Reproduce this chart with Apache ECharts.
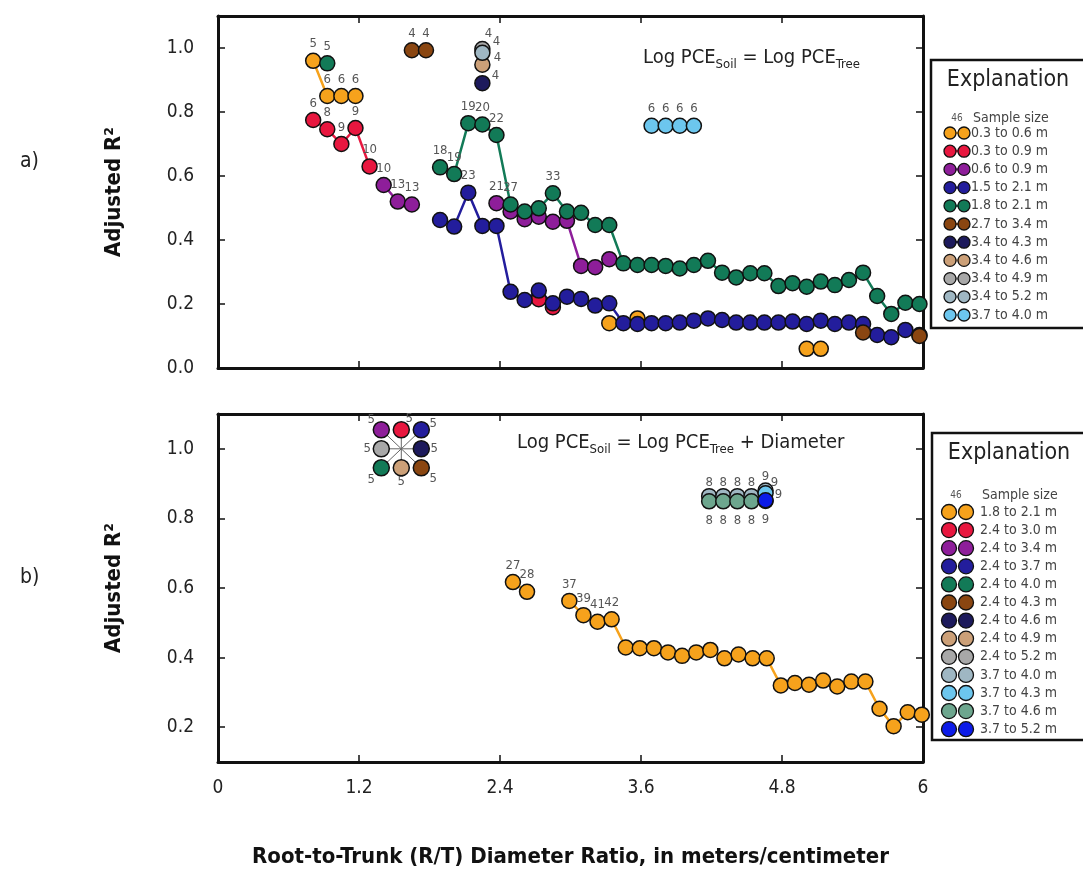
<!DOCTYPE html>
<html>
<head>
<meta charset="utf-8">
<script src="https://cdn.jsdelivr.net/npm/echarts@6/dist/echarts.min.js"></script>
<style>
html, body { margin: 0; padding: 0; background: #fff; }
#chart { width: 1083px; height: 869px; }
</style>
</head>
<body>
<div id="chart"></div>
<script>
var FONT = '"Liberation Sans Narrow", "DejaVu Sans Condensed", "Arial Narrow", sans-serif'

// Axis ticks
var xTicks = [0, 1.2, 2.4, 3.6, 4.8, 6]
var yTicksA = [0, 0.2, 0.4, 0.6, 0.8, 1.0]
var yTicksB = [0.2, 0.4, 0.6, 0.8, 1.0]

// Panel a) -- each series is a list of segments, point = [R/T ratio, adjusted R2, sample size]
var namesA = ['0.3 to 0.6 m', '0.3 to 0.9 m', '0.6 to 0.9 m', '1.5 to 2.1 m', '1.8 to 2.1 m', '2.7 to 3.4 m',
    '3.4 to 4.3 m', '3.4 to 4.6 m', '3.4 to 4.9 m', '3.4 to 5.2 m', '3.7 to 4.0 m']
var colorsA = ['#F6A21C', '#E8173F', '#8E1E9A', '#231D9C', '#127A57', '#8A4611',
    '#1D1A5C', '#CCA078', '#A8A8A8', '#9FB7C3', '#6CC6EE']

var a_03_06 = [[[0.81, 0.96, 5], [0.93, 0.85, 6], [1.05, 0.85, 6], [1.17, 0.85, 6]],
    [[3.33, 0.14]], [[3.57, 0.155]], [[5.01, 0.06], [5.13, 0.06]]]
var a_03_09 = [[[0.81, 0.775, 6], [0.93, 0.746, 8], [1.05, 0.70, 9], [1.17, 0.75, 9], [1.29, 0.63, 10]],
    [[2.73, 0.215], [2.85, 0.19]]]
var a_06_09 = [[[1.41, 0.572, 10], [1.53, 0.52, 13], [1.65, 0.511, 13]],
    [[2.37, 0.515, 21], [2.49, 0.489], [2.61, 0.465], [2.73, 0.473], [2.85, 0.457], [2.97, 0.46],
     [3.09, 0.319], [3.21, 0.315], [3.33, 0.34]]]
var a_15_21 = [[[1.89, 0.4625], [2.01, 0.442], [2.13, 0.548, 23], [2.25, 0.444], [2.37, 0.444],
    [2.49, 0.238], [2.61, 0.2125], [2.73, 0.242], [2.85, 0.202], [2.97, 0.223], [3.09, 0.216],
    [3.21, 0.195], [3.33, 0.202], [3.45, 0.14], [3.57, 0.1375], [3.69, 0.14], [3.81, 0.14],
    [3.93, 0.142], [4.05, 0.148], [4.17, 0.155], [4.29, 0.15], [4.41, 0.142], [4.53, 0.142],
    [4.65, 0.142], [4.77, 0.142], [4.89, 0.145], [5.01, 0.1375], [5.13, 0.148], [5.25, 0.1375],
    [5.37, 0.142], [5.49, 0.1375], [5.61, 0.103], [5.73, 0.096], [5.85, 0.119], [5.97, 0.103]]]
var a_18_21 = [[[0.93, 0.952, 5]],
    [[1.89, 0.627, 18], [2.01, 0.606, 19], [2.13, 0.765, 19], [2.25, 0.761, 20], [2.37, 0.728, 22],
     [2.49, 0.511, 27], [2.61, 0.489], [2.73, 0.499], [2.85, 0.546, 33], [2.97, 0.489], [3.09, 0.485],
     [3.21, 0.447], [3.33, 0.447], [3.45, 0.327], [3.57, 0.322], [3.69, 0.322], [3.81, 0.319],
     [3.93, 0.311], [4.05, 0.322], [4.17, 0.335], [4.29, 0.298], [4.41, 0.283], [4.53, 0.296],
     [4.65, 0.296], [4.77, 0.256], [4.89, 0.265], [5.01, 0.254], [5.13, 0.27], [5.25, 0.259],
     [5.37, 0.275], [5.49, 0.298], [5.61, 0.225], [5.73, 0.169], [5.85, 0.204], [5.97, 0.2]]]
var a_27_34 = [[[1.65, 0.993, 4], [1.77, 0.993, 4]], [[5.49, 0.111]], [[5.97, 0.10]]]
var a_34_43 = [[[2.25, 0.89, 4]]]
var a_34_46 = [[[2.25, 0.948, 4]]]
var a_34_49 = [[[2.25, 0.997, 4]]]
var a_34_52 = [[[2.25, 0.985, 4]]]
var a_37_40 = [[[3.69, 0.757, 6], [3.81, 0.757, 6], [3.93, 0.757, 6], [4.05, 0.757, 6]]]

var dataA = [a_03_06, a_03_09, a_06_09, a_15_21, a_18_21, a_27_34, a_34_43, a_34_46, a_34_49, a_34_52, a_37_40]

// Panel b)
var namesB = ['1.8 to 2.1 m', '2.4 to 3.0 m', '2.4 to 3.4 m', '2.4 to 3.7 m', '2.4 to 4.0 m', '2.4 to 4.3 m',
    '2.4 to 4.6 m', '2.4 to 4.9 m', '2.4 to 5.2 m', '3.7 to 4.0 m', '3.7 to 4.3 m', '3.7 to 4.6 m', '3.7 to 5.2 m']
var colorsB = ['#F6A21C', '#E8173F', '#8E1E9A', '#231D9C', '#127A57', '#8A4611',
    '#1D1A5C', '#CCA078', '#A8A8A8', '#9FB7C3', '#6CC6EE', '#6DA68E', '#0C1BE8']

var b_18_21 = [[[2.51, 0.617, 27], [2.63, 0.589, 28]],
    [[2.99, 0.563, 37], [3.11, 0.522, 39], [3.23, 0.503, 41], [3.35, 0.510, 42], [3.47, 0.429],
     [3.59, 0.427], [3.71, 0.427], [3.83, 0.415], [3.95, 0.405], [4.07, 0.415], [4.19, 0.422],
     [4.31, 0.398], [4.43, 0.409], [4.55, 0.398], [4.67, 0.398], [4.79, 0.320], [4.91, 0.327],
     [5.03, 0.322], [5.15, 0.334], [5.27, 0.317], [5.39, 0.331], [5.51, 0.331], [5.63, 0.253],
     [5.75, 0.203], [5.87, 0.243], [5.99, 0.236]]]
// all eight 2.4 m series share one point, spread out as a sunflower
var starPoint = [1.56, 1.0, 5]
var b_37_40 = [[[4.18, 0.864, 8], [4.30, 0.864, 8], [4.42, 0.864, 8], [4.54, 0.864, 8], [4.66, 0.88, 9]]]
var b_37_43 = [[[4.66, 0.872, 9]]]
var b_37_46 = [[[4.18, 0.849, 8], [4.30, 0.849, 8], [4.42, 0.849, 8], [4.54, 0.849, 8], [4.66, 0.85, 9]]]
var b_37_52 = [[[4.66, 0.852, 9]]]

var dataB = [b_18_21, [[starPoint]], [[starPoint]], [[starPoint]], [[starPoint]], [[starPoint]],
    [[starPoint]], [[starPoint]], [[starPoint]], b_37_40, b_37_43, b_37_46, b_37_52]

// sunflower offsets (px) and where their "5" labels sit, in namesB order 1..8
var starOffsets = [[0, -19], [-20, -19], [20, -19], [-20, 19], [20, 19], [20, 0], [0, 19], [-20, 0]]
var starLabelOffsets = [[8, -11], [-10, -10], [12, -6], [-10, 12], [12, 11], [13, 0], [0, 14], [-14, 0]]

// label tweaks for stacked points
var labelA = {
    6: { position: 'inside', offset: [13, -8] },
    7: { position: 'inside', offset: [15, -7] },
    8: { position: 'inside', offset: [6, -15] },
    9: { position: 'inside', offset: [14, -11] }
}
var labelB = {
    9: { position: 'inside', offset: [0, -14] },
    10: { position: 'inside', offset: [9, -11] },
    11: { position: 'inside', offset: [0, 19] },
    12: { position: 'inside', offset: [13, -6] }
}

function joinSegs(segs) {
    var out = []
    segs.forEach(function (s, i) {
        if (i > 0) out.push([s[0][0], '-'])
        s.forEach(function (p) { out.push(p) })
    })
    return out
}

function sizeLabel(p) {
    var n = p.value[2]
    return (n == null || isNaN(n)) ? '' : String(n)
}

function makeSeries(name, color, segs, gi, extraLabel, size) {
    var label = { show: true, position: 'top', distance: 2, fontSize: 13, color: '#555', fontFamily: FONT, formatter: sizeLabel }
    if (extraLabel) Object.assign(label, extraLabel)
    return {
        type: 'line', name: name, xAxisIndex: gi * 2, yAxisIndex: gi * 2,
        data: joinSegs(segs), dimensions: ['x', 'y', 'n'], encode: { x: 0, y: 1 },
        symbol: 'circle', symbolSize: size || 15, showSymbol: true, showAllSymbol: true,
        connectNulls: false, clip: true,
        lineStyle: { color: color, width: 2.5 },
        itemStyle: { color: color, borderColor: '#111', borderWidth: 1.5 },
        label: label, emphasis: { disabled: true }, silent: true, z: 3
    }
}

var series = []
namesA.forEach(function (nm, i) {
    series.push(makeSeries(nm, colorsA[i], dataA[i], 0, labelA[i]))
})

// spokes of the sunflower
series.push({
    type: 'custom', xAxisIndex: 2, yAxisIndex: 2, data: [starPoint], silent: true, z: 2,
    renderItem: function (params, api) {
        var c = api.coord([api.value(0), api.value(1)])
        return {
            type: 'group',
            children: starOffsets.map(function (o) {
                return { type: 'line', shape: { x1: c[0], y1: c[1], x2: c[0] + o[0], y2: c[1] + o[1] }, style: { stroke: '#666', lineWidth: 1 } }
            })
        }
    }
})

namesB.forEach(function (nm, i) {
    var s
    if (i >= 1 && i <= 8) {
        s = makeSeries(nm, colorsB[i], dataB[i], 1, { position: 'inside', offset: starLabelOffsets[i - 1] }, 16)
        s.symbolOffset = starOffsets[i - 1]
    } else {
        s = makeSeries(nm, colorsB[i], dataB[i], 1, labelB[i])
    }
    series.push(s)
})

function xAxisOf(gi, pos, showLabels) {
    return {
        type: 'value', gridIndex: gi, min: 0, max: 6, position: pos,
        axisLine: { show: true, onZero: false, lineStyle: { color: '#111', width: 3 } },
        axisTick: { show: true, inside: true, length: 7, customValues: xTicks, lineStyle: { color: '#111', width: 1.5 } },
        axisLabel: {
            show: showLabels, customValues: xTicks, margin: 17, fontSize: 19, color: '#222', fontFamily: FONT,
            formatter: function (v) { return (v === 0 || v === 6) ? String(v) : v.toFixed(1) }
        },
        splitLine: { show: false }
    }
}

function yAxisOf(gi, pos, min, ticks, showLabels) {
    return {
        type: 'value', gridIndex: gi, min: min, max: 1.1, position: pos,
        axisLine: { show: true, onZero: false, lineStyle: { color: '#111', width: 3 } },
        axisTick: { show: true, inside: true, length: 7, customValues: ticks, lineStyle: { color: '#111', width: 1.5 } },
        axisLabel: {
            show: showLabels, customValues: ticks, margin: 24, fontSize: 19, color: '#222', fontFamily: FONT,
            formatter: function (v) { return v.toFixed(1) }
        },
        splitLine: { show: false },
        name: showLabels ? 'Adjusted R\u00B2' : '', nameLocation: 'middle', nameGap: 93, nameRotate: 90,
        nameTextStyle: { fontSize: 22, fontWeight: 'bold', color: '#111', fontFamily: FONT }
    }
}

var xAxes = [xAxisOf(0, 'bottom', false), xAxisOf(0, 'top', false), xAxisOf(1, 'bottom', true), xAxisOf(1, 'top', false)]
xAxes[2].name = 'Root-to-Trunk (R/T) Diameter Ratio, in meters/centimeter'
xAxes[2].nameLocation = 'middle'
xAxes[2].nameGap = 84
xAxes[2].nameTextStyle = { fontSize: 22, fontWeight: 'bold', color: '#111', fontFamily: FONT }

var yAxes = [yAxisOf(0, 'left', 0, yTicksA, true), yAxisOf(0, 'right', 0, yTicksA, false),
    yAxisOf(1, 'left', 0.1, yTicksB, true), yAxisOf(1, 'right', 0.1, yTicksB, false)]

// Explanation boxes
function legendBox(names, colors, box, joined) {
    var els = []
    els.push({ type: 'rect', shape: { x: box.x, y: box.y, width: 180, height: box.h }, style: { fill: '#fff', stroke: '#111', lineWidth: 2.5 }, z: 10 })
    els.push({ type: 'text', style: { text: 'Explanation', x: box.x + 77, y: box.titleY, align: 'center', verticalAlign: 'middle', fontSize: 23, fontFamily: FONT, fill: '#222' }, z: 11 })
    els.push({ type: 'text', style: { text: '46', x: box.c1 + 7, y: box.headY, align: 'center', verticalAlign: 'middle', fontSize: 10, fontFamily: FONT, fill: '#555' }, z: 11 })
    els.push({ type: 'text', style: { text: 'Sample size', x: box.tx + 2, y: box.headY, verticalAlign: 'middle', fontSize: 14, fontFamily: FONT, fill: '#444' }, z: 11 })
    names.forEach(function (nm, i) {
        var cy = box.row0 + i * box.step
        if (joined) els.push({ type: 'line', shape: { x1: box.c1, y1: cy, x2: box.c2, y2: cy }, style: { stroke: colors[i], lineWidth: 2.5 }, z: 11 })
        els.push({ type: 'circle', shape: { cx: box.c1, cy: cy, r: box.r }, style: { fill: colors[i], stroke: '#111', lineWidth: 1.3 }, z: 12 })
        els.push({ type: 'circle', shape: { cx: box.c2, cy: cy, r: box.r }, style: { fill: colors[i], stroke: '#111', lineWidth: 1.3 }, z: 12 })
        els.push({ type: 'text', style: { text: nm, x: box.tx, y: cy, verticalAlign: 'middle', fontSize: 14, fontFamily: FONT, fill: '#444' }, z: 12 })
    })
    return els
}

var graphics = []
graphics = graphics.concat(legendBox(namesA, colorsA, { x: 931, y: 60, h: 268, titleY: 80, headY: 118, row0: 133, step: 18.2, c1: 950, c2: 964, r: 6, tx: 971 }, true))
graphics = graphics.concat(legendBox(namesB, colorsB, { x: 932, y: 433, h: 307, titleY: 453, headY: 495, row0: 512, step: 18.1, c1: 949, c2: 966, r: 7.5, tx: 980 }, false))

graphics.push({ type: 'text', style: { text: 'a)', x: 20, y: 162, verticalAlign: 'middle', fontSize: 21, fontFamily: FONT, fill: '#222' } })
graphics.push({ type: 'text', style: { text: 'b)', x: 20, y: 578, verticalAlign: 'middle', fontSize: 21, fontFamily: FONT, fill: '#222' } })

var eqRich = {
    m: { fontSize: 20, lineHeight: 26, fontFamily: FONT, fill: '#222' },
    s: { fontSize: 13, verticalAlign: 'bottom', fontFamily: FONT, fill: '#222' }
}
graphics.push({ type: 'text', z: 5, style: { text: '{m|Log PCE}{s|Soil}{m| = Log PCE}{s|Tree}', x: 643, y: 58, verticalAlign: 'middle', rich: eqRich } })
graphics.push({ type: 'text', z: 5, style: { text: '{m|Log PCE}{s|Soil}{m| = Log PCE}{s|Tree}{m| + Diameter}', x: 517, y: 443, verticalAlign: 'middle', rich: eqRich } })

var chart = echarts.init(document.getElementById('chart'), null, { renderer: 'canvas' })
chart.setOption({
    animation: false,
    backgroundColor: '#fff',
    textStyle: { fontFamily: FONT },
    grid: [
        { left: 218, right: 160, top: 16, height: 352 },
        { left: 218, right: 160, top: 414, height: 351 }
    ],
    xAxis: xAxes,
    yAxis: yAxes,
    series: series,
    graphic: { elements: graphics }
})
</script>
</body>
</html>
